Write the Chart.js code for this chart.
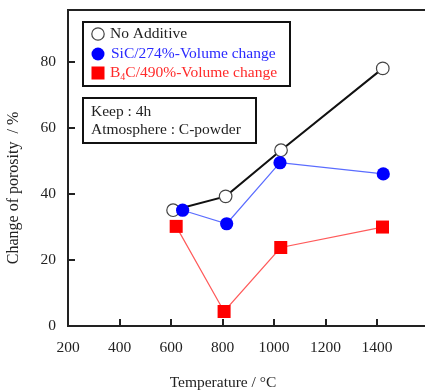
<!DOCTYPE html>
<html>
<head>
<meta charset="utf-8">
<script src="https://cdn.jsdelivr.net/npm/chart.js@4"></script>
<style>
  body { margin: 0; background: #fff; }
</style>
</head>
<body>
<canvas id="myChart" width="425" height="392"></canvas>
<script>
// data
const tempNoAdd = [608, 812, 1027, 1422];
const porosityNoAdd = [35.1, 39.3, 53.3, 78.1];
const tempSiC = [645, 816, 1023, 1424];
const porositySiC = [35.1, 31.0, 49.5, 46.1];
const tempB4C = [620, 806, 1026, 1421];
const porosityB4C = [30.2, 4.4, 23.8, 30.0];

const xTickValues = [200, 400, 600, 800, 1000, 1200, 1400];
const yTickValues = [0, 20, 40, 60, 80];

const FONT = "'Liberation Serif', 'DejaVu Serif', serif";
const INK = "#222";

const toPoints = (xs, ys) => xs.map((x, i) => ({ x: x, y: ys[i] }));

// inward ticks, top frame line, axis titles and the two boxes
const decorations = {
  id: "decorations",
  afterDraw(chart) {
    const ctx = chart.ctx;
    const area = chart.chartArea;
    const xs = chart.scales.x;
    const ys = chart.scales.y;
    ctx.save();
    ctx.strokeStyle = INK;
    ctx.lineWidth = 2;
    ctx.beginPath();
    ctx.moveTo(area.left - 1, area.top);
    ctx.lineTo(area.right, area.top);
    ctx.stroke();
    xTickValues.slice(1).forEach((v) => {
      const px = Math.round(xs.getPixelForValue(v));
      ctx.beginPath();
      ctx.moveTo(px, area.bottom);
      ctx.lineTo(px, area.bottom - 7);
      ctx.stroke();
    });
    yTickValues.slice(1).forEach((v) => {
      const py = Math.round(ys.getPixelForValue(v));
      ctx.beginPath();
      ctx.moveTo(area.left, py);
      ctx.lineTo(area.left + 7, py);
      ctx.stroke();
    });

    // axis titles
    ctx.fillStyle = INK;
    ctx.font = "15.5px " + FONT;
    ctx.textAlign = "center";
    ctx.textBaseline = "middle";
    ctx.fillText("Temperature / \u00B0C", 223, 383);
    ctx.save();
    ctx.font = "16px " + FONT;
    ctx.translate(14, 188);
    ctx.rotate(-Math.PI / 2);
    ctx.fillText("Change of porosity  / %", 0, 0);
    ctx.restore();

    // legend box
    ctx.lineWidth = 2;
    ctx.strokeStyle = "#111";
    ctx.strokeRect(83, 22, 207, 64);
    ctx.strokeRect(83, 98, 173, 45);

    ctx.textAlign = "left";
    ctx.font = "15.5px " + FONT;
    // markers
    ctx.lineWidth = 1.2;
    ctx.strokeStyle = "#444";
    ctx.fillStyle = "#fff";
    ctx.beginPath();
    ctx.arc(98, 34, 6.2, 0, Math.PI * 2);
    ctx.fill();
    ctx.stroke();
    ctx.fillStyle = "#0000ff";
    ctx.beginPath();
    ctx.arc(98, 54, 6.5, 0, Math.PI * 2);
    ctx.fill();
    ctx.fillStyle = "#ff0000";
    ctx.fillRect(91.5, 66.5, 13, 13);

    ctx.fillStyle = INK;
    ctx.fillText("No Additive", 110, 34);
    ctx.fillStyle = "#2a2aff";
    ctx.fillText("SiC/274%-Volume change", 111, 54);
    ctx.fillStyle = "#ff2a2a";
    ctx.fillText("B", 110, 73);
    let w = ctx.measureText("B").width;
    ctx.font = "10px " + FONT;
    ctx.fillText("4", 110 + w, 77);
    w += ctx.measureText("4").width;
    ctx.font = "15.5px " + FONT;
    ctx.fillText("C/490%-Volume change", 110 + w, 73);

    ctx.fillStyle = INK;
    ctx.fillText("Keep : 4h", 91, 112);
    ctx.fillText("Atmosphere : C-powder", 91, 130);
    ctx.restore();
  },
};

const data = {
  datasets: [
    {
      label: "No Additive",
      data: toPoints(tempNoAdd, porosityNoAdd),
      borderColor: "#111",
      borderWidth: 2,
      pointStyle: "circle",
      pointRadius: 6.3,
      pointBackgroundColor: "#fff",
      pointBorderColor: "#444",
      pointBorderWidth: 1.2,
      order: 3,
    },
    {
      label: "SiC/274%-Volume change",
      data: toPoints(tempSiC, porositySiC),
      borderColor: "#5a6cff",
      borderWidth: 1.2,
      pointStyle: "circle",
      pointRadius: 6.6,
      pointBackgroundColor: "#0000ff",
      pointBorderColor: "#0000ff",
      pointBorderWidth: 0,
      order: 2,
    },
    {
      label: "B4C/490%-Volume change",
      data: toPoints(tempB4C, porosityB4C),
      borderColor: "#ff5a5a",
      borderWidth: 1.2,
      pointStyle: "rect",
      pointRadius: 9.2,
      pointBackgroundColor: "#ff0000",
      pointBorderColor: "#ff0000",
      pointBorderWidth: 0,
      order: 1,
    },
  ],
};

const config = {
  type: "line",
  data: data,
  options: {
    responsive: false,
    animation: false,
    clip: false,
    layout: {
      autoPadding: false,
      padding: { top: 10, right: 0, left: 0, bottom: 0 },
    },
    plugins: {
      legend: { display: false },
      tooltip: { enabled: false },
    },
    scales: {
      x: {
        type: "linear",
        min: 200,
        max: 1586,
        afterBuildTicks: (scale) => {
          scale.ticks = xTickValues.map((v) => ({ value: v }));
        },
        afterFit: (scale) => {
          scale.height = 66;
          scale.paddingLeft = 0;
          scale.paddingRight = 0;
        },
        grid: { drawOnChartArea: false, drawTicks: false },
        border: { color: INK, width: 2 },
        ticks: {
          padding: 13,
          maxRotation: 0,
          autoSkip: false,
          color: INK,
          font: { family: FONT, size: 15.5 },
          callback: (v) => String(v),
        },
      },
      y: {
        type: "linear",
        min: 0,
        max: 95.8,
        afterBuildTicks: (scale) => {
          scale.ticks = yTickValues.map((v) => ({ value: v }));
        },
        afterFit: (scale) => {
          scale.width = 68;
          scale.paddingTop = 0;
          scale.paddingBottom = 0;
        },
        grid: { drawOnChartArea: false, drawTicks: false },
        border: { color: INK, width: 2 },
        ticks: {
          padding: 12,
          color: INK,
          font: { family: FONT, size: 15.5 },
          callback: (v) => String(v),
        },
      },
    },
  },
  plugins: [decorations],
};

new Chart(document.getElementById("myChart"), config);
</script>
</body>
</html>
